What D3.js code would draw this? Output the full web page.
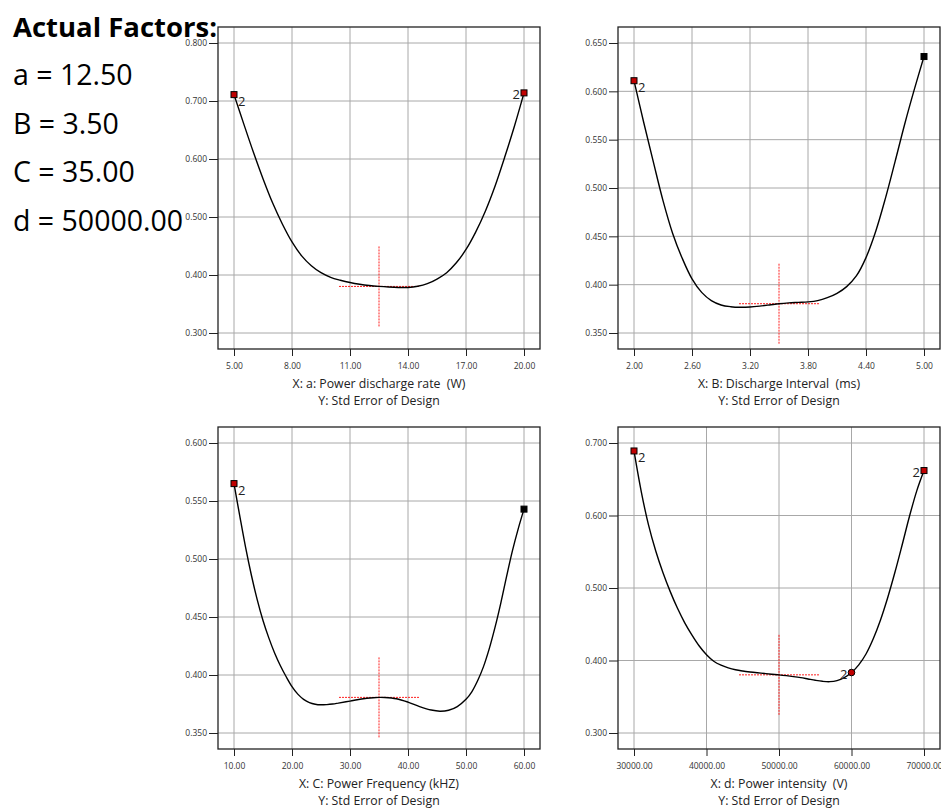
<!DOCTYPE html>
<html>
<head>
<meta charset="utf-8">
<script src="https://cdn.jsdelivr.net/npm/d3@7"></script>
<style>
  html, body { margin: 0; padding: 0; background: #fff; }
  svg { display: block; }
  text { font-family: "Open Sans", "Noto Sans", sans-serif; white-space: pre; }
</style>
</head>
<body>
<svg id="chart" width="941" height="808"></svg>
<script>
// Current factor settings shown in the header block
const factorLabels = ["a = 12.50", "B = 3.50", "C = 35.00", "d = 50000.00"];

// Panel 1: a, Power discharge rate (W)
const aX = [5, 5.5, 6, 6.5, 7, 7.5, 8, 8.5, 9, 9.5, 10, 10.5, 11, 11.5, 12, 12.5, 13, 13.5, 14, 14.5, 15, 15.5, 16, 16.5, 17, 17.5, 18, 18.5, 19, 19.5, 20];
const aY = [0.711, 0.661, 0.612, 0.566, 0.524, 0.488, 0.457, 0.433, 0.416, 0.404, 0.396, 0.391, 0.387, 0.384, 0.3818, 0.3803, 0.3792, 0.3785, 0.3785, 0.3805, 0.385, 0.393, 0.404, 0.421, 0.444, 0.474, 0.510, 0.553, 0.603, 0.656, 0.714];
const aTicks = [5, 8, 11, 14, 17, 20];
const aYTicks = [0.3, 0.4, 0.5, 0.6, 0.7, 0.8];

// Panel 2: B, Discharge Interval (ms)
const bX = [2.0, 2.1, 2.2, 2.3, 2.4, 2.5, 2.6, 2.7, 2.8, 2.9, 3.0, 3.1, 3.2, 3.3, 3.4, 3.5, 3.6, 3.7, 3.8, 3.9, 4.0, 4.1, 4.2, 4.3, 4.4, 4.5, 4.6, 4.7, 4.8, 4.9, 5.0];
const bY = [0.611, 0.568, 0.527, 0.487, 0.453, 0.427, 0.406, 0.392, 0.3835, 0.379, 0.3772, 0.3766, 0.3769, 0.3778, 0.379, 0.3803, 0.3812, 0.3817, 0.3822, 0.3835, 0.3865, 0.391, 0.398, 0.409, 0.428, 0.455, 0.489, 0.527, 0.566, 0.602, 0.636];
const bTicks = [2.0, 2.6, 3.2, 3.8, 4.4, 5.0];
const bYTicks = [0.35, 0.4, 0.45, 0.5, 0.55, 0.6, 0.65];

// Panel 3: C, Power Frequency (kHZ)
const cX = [10, 11, 12, 13, 14, 15, 16, 17, 18, 19, 20, 21, 22, 23, 24, 25, 26, 27, 28, 30, 32, 34, 35, 36, 38, 40, 42, 44, 45.5, 47, 48.5, 50, 51, 52, 53, 54, 55, 56, 57, 58, 59, 60];
const cY = [0.565, 0.537, 0.510, 0.486, 0.465, 0.447, 0.432, 0.419, 0.408, 0.3985, 0.390, 0.3835, 0.379, 0.3762, 0.3748, 0.3743, 0.3745, 0.375, 0.3758, 0.3775, 0.3793, 0.3804, 0.3807, 0.3806, 0.3795, 0.3766, 0.3728, 0.3698, 0.3688, 0.3696, 0.3728, 0.379, 0.3855, 0.395, 0.407, 0.4225, 0.441, 0.462, 0.485, 0.507, 0.526, 0.543];
const cTicks = [10, 20, 30, 40, 50, 60];
const cYTicks = [0.35, 0.4, 0.45, 0.5, 0.55, 0.6];

// Panel 4: d, Power intensity (V)
const dX = [30000, 31000, 32000, 33000, 34000, 35000, 36000, 37000, 38000, 39000, 40000, 41000, 42000, 43000, 44000, 45000, 46000, 47000, 48000, 49000, 50000, 51000, 52000, 53000, 54000, 55000, 56000, 57000, 58000, 59000, 60000, 61000, 62000, 63000, 64000, 65000, 66000, 67000, 68000, 69000, 70000];
const dY = [0.689, 0.633, 0.587, 0.551, 0.521, 0.495, 0.472, 0.452, 0.435, 0.420, 0.408, 0.399, 0.3935, 0.3898, 0.3872, 0.3855, 0.3842, 0.3831, 0.3821, 0.3811, 0.3802, 0.3791, 0.3778, 0.3763, 0.3745, 0.3727, 0.3713, 0.3708, 0.3722, 0.3763, 0.3834, 0.394, 0.409, 0.430, 0.456, 0.487, 0.522, 0.560, 0.599, 0.634, 0.662];
const dTicks = [30000, 40000, 50000, 60000, 70000];
const dYTicks = [0.3, 0.4, 0.5, 0.6, 0.7];

// Design points on each curve: x, y, replicate count ("" = single), marker kind, label side
const aPts = [[5, 0.711, "2", "red", "right"], [20, 0.714, "2", "red", "left"]];
const bPts = [[2.0, 0.611, "2", "red", "right"], [5.0, 0.636, "", "black", "left"]];
const cPts = [[10, 0.565, "2", "red", "right"], [60, 0.543, "", "black", "left"]];
const dPts = [[30000, 0.689, "2", "red", "right"], [60000, 0.3834, "2", "redCircle", "left"], [70000, 0.662, "2", "red", "left"]];

// Current setting (crosshair centre)
const current = { a: [12.5, 0.3803], b: [3.5, 0.3803], c: [35, 0.3807], d: [50000, 0.3802] };

const xTitles = ["X: a: Power discharge rate  (W)", "X: B: Discharge Interval  (ms)", "X: C: Power Frequency (kHZ)", "X: d: Power intensity  (V)"];
const yTitle = "Y: Std Error of Design";

const panels = [
  { left: 218, top: 27, xs: aX, ys: aY, xt: aTicks, yt: aYTicks, xd: [5, 20], yd: [0.3, 0.8], pts: aPts, cur: current.a, title: xTitles[0] },
  { left: 618, top: 27, xs: bX, ys: bY, xt: bTicks, yt: bYTicks, xd: [2, 5], yd: [0.35, 0.65], pts: bPts, cur: current.b, title: xTitles[1] },
  { left: 218, top: 427, xs: cX, ys: cY, xt: cTicks, yt: cYTicks, xd: [10, 60], yd: [0.35, 0.6], pts: cPts, cur: current.c, title: xTitles[2] },
  { left: 618, top: 427, xs: dX, ys: dY, xt: dTicks, yt: dYTicks, xd: [30000, 70000], yd: [0.3, 0.7], pts: dPts, cur: current.d, title: xTitles[3] }
];

const svg = d3.select("#chart");
const W = 322, H = 322, PAD = 16;

// Header block with the factor settings
const head = svg.append("g");
head.append("text").attr("x", 13).attr("y", 37)
  .attr("font-size", 27.5).attr("font-weight", "bold").attr("fill", "#000")
  .text("Actual Factors:");
factorLabels.forEach((t, i) => {
  head.append("text").attr("x", 13).attr("y", 85 + i * 48.5)
    .attr("font-size", 28.5).attr("fill", "#000").text(t);
});

panels.forEach(p => {
  const g = svg.append("g").attr("transform", `translate(${p.left},${p.top})`);
  const x = d3.scaleLinear().domain(p.xd).range([PAD, W - PAD]);
  const y = d3.scaleLinear().domain(p.yd).range([H - PAD, PAD]);

  // grid
  g.append("g").selectAll("line").data(p.xt).join("line")
    .attr("x1", d => x(d)).attr("x2", d => x(d)).attr("y1", 0).attr("y2", H)
    .attr("stroke", "#a8a8a8").attr("stroke-width", 1);
  g.append("g").selectAll("line").data(p.yt).join("line")
    .attr("x1", 0).attr("x2", W).attr("y1", d => y(d)).attr("y2", d => y(d))
    .attr("stroke", "#a8a8a8").attr("stroke-width", 1);

  // axes
  const xAxis = d3.axisBottom(x).tickValues(p.xt).tickFormat(d3.format(".2f")).tickSizeOuter(0).tickSize(7).tickPadding(7);
  const yAxis = d3.axisLeft(y).tickValues(p.yt).tickFormat(d3.format(".3f")).tickSizeOuter(0).tickSize(9).tickPadding(2);
  const gx = g.append("g").attr("transform", `translate(0,${H})`).call(xAxis);
  const gy = g.append("g").call(yAxis);
  [gx, gy].forEach(a => {
    a.select(".domain").remove();
    a.selectAll(".tick line").attr("stroke", "#222");
    a.selectAll(".tick text").attr("fill", "#333").attr("font-size", 8.5)
      .attr("font-family", "'Open Sans', sans-serif");
  });

  // frame
  g.append("rect").attr("x", 0).attr("y", 0).attr("width", W).attr("height", H)
    .attr("fill", "none").attr("stroke", "#222").attr("stroke-width", 1.3);

  // crosshair at current setting
  const cx = x(p.cur[0]), cy = y(p.cur[1]);
  g.append("line").attr("x1", cx).attr("x2", cx).attr("y1", cy - 40).attr("y2", cy + 40)
    .attr("stroke", "#ff2020").attr("stroke-width", 1).attr("stroke-dasharray", "2,1");
  g.append("line").attr("x1", cx - 40).attr("x2", cx + 40).attr("y1", cy).attr("y2", cy)
    .attr("stroke", "#ff2020").attr("stroke-width", 1).attr("stroke-dasharray", "2,1");

  // curve
  const line = d3.line().x(d => x(d[0])).y(d => y(d[1])).curve(d3.curveCatmullRom.alpha(0.5));
  g.append("path").datum(p.xs.map((v, i) => [v, p.ys[i]]))
    .attr("d", line).attr("fill", "none").attr("stroke", "#000").attr("stroke-width", 1.4);

  // design points
  p.pts.forEach(pt => {
    const px = x(pt[0]), py = y(pt[1]);
    if (pt[3] === "redCircle") {
      g.append("circle").attr("cx", px).attr("cy", py).attr("r", 3.3)
        .attr("fill", "#c00000").attr("stroke", "#000").attr("stroke-width", 1);
    } else {
      g.append("rect").attr("x", px - 3).attr("y", py - 3).attr("width", 6).attr("height", 6)
        .attr("fill", pt[3] === "red" ? "#c00000" : "#000")
        .attr("stroke", "#000").attr("stroke-width", 1);
    }
    if (pt[2]) {
      const right = pt[4] === "right";
      g.append("text").attr("x", right ? px + 4 : px - 4).attr("y", py + (right ? 11 : 6))
        .attr("text-anchor", right ? "start" : "end")
        .attr("font-size", 13).attr("fill", "#222").text(pt[2]);
    }
  });

  // axis titles
  g.append("text").attr("x", W / 2).attr("y", H + 39).attr("text-anchor", "middle")
    .attr("font-size", 12.3).attr("fill", "#222").text(p.title);
  g.append("text").attr("x", W / 2).attr("y", H + 55.5).attr("text-anchor", "middle")
    .attr("font-size", 12.3).attr("fill", "#222").text(yTitle);
});
</script>
</body>
</html>
